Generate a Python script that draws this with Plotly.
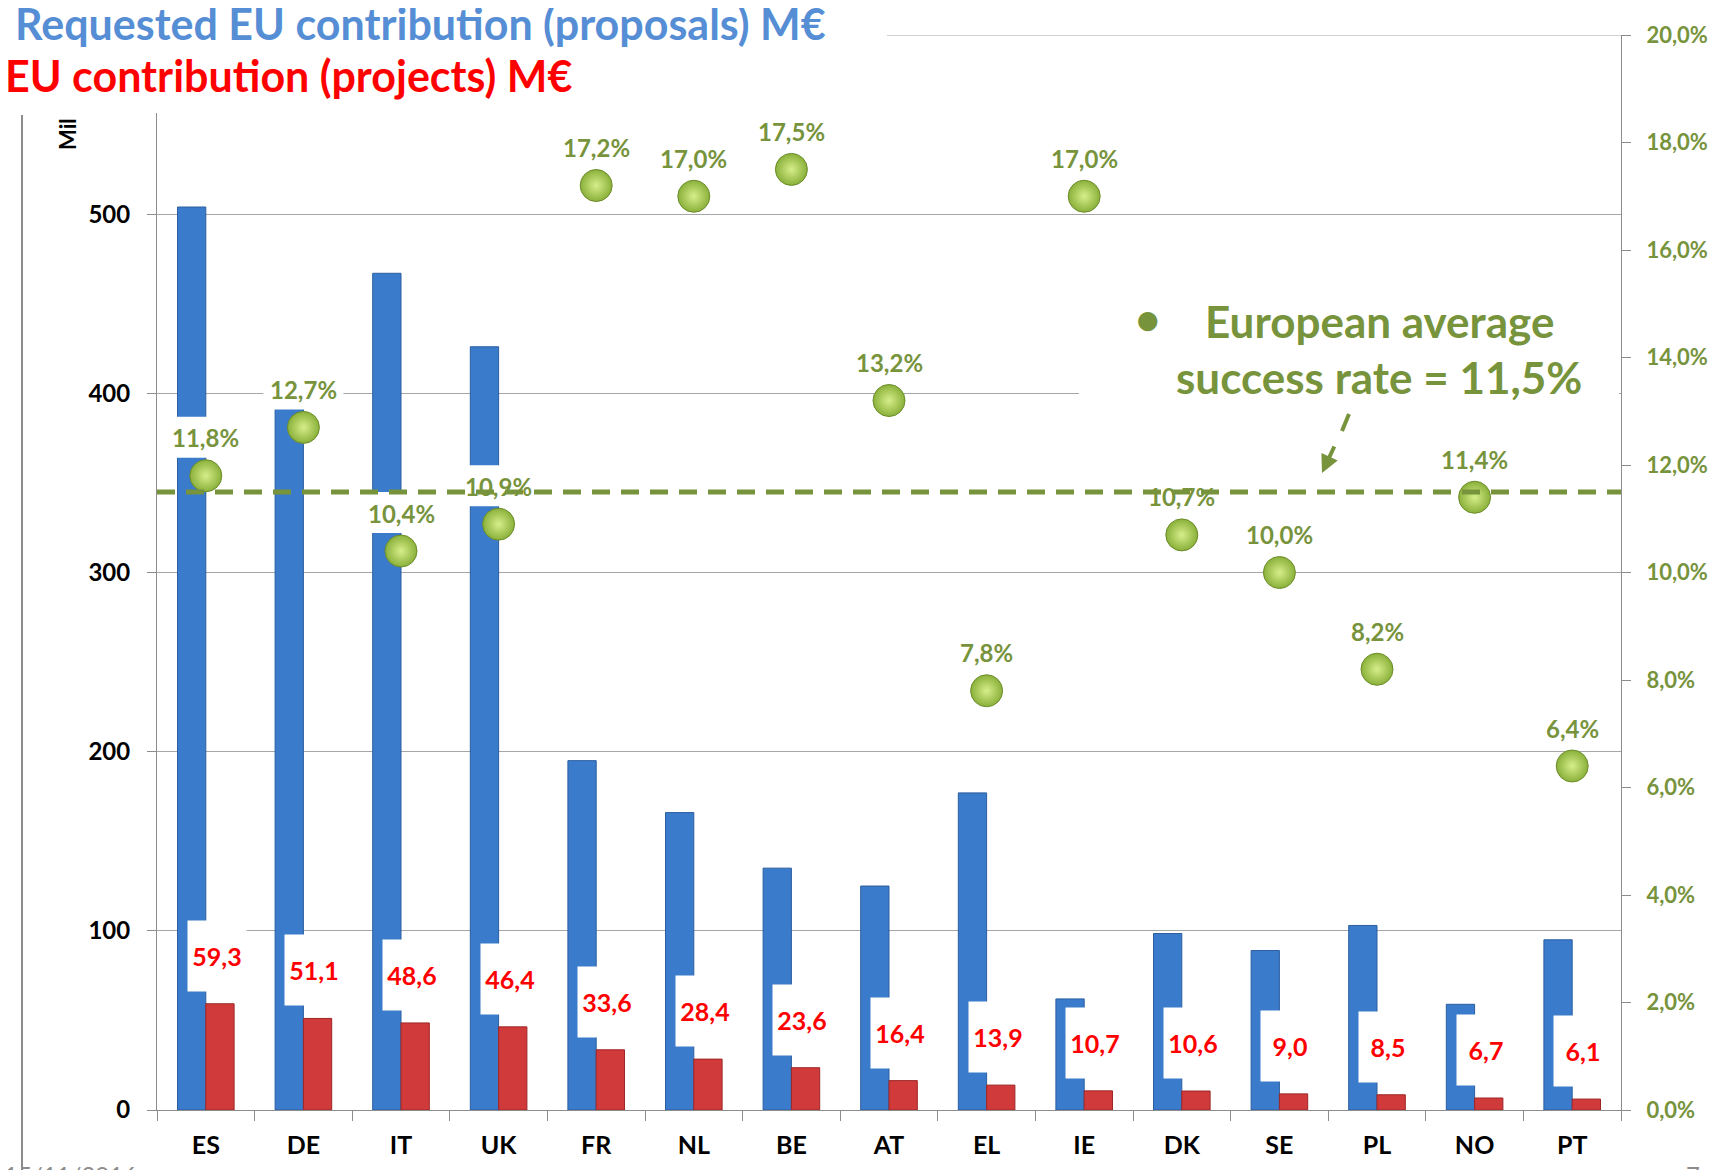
import plotly.graph_objects as go

# data
countries = ["ES", "DE", "IT", "UK", "FR", "NL", "BE", "AT", "EL", "IE", "DK", "SE", "PL", "NO", "PT"]
requested = [504, 402, 467, 426, 195, 166, 135, 125, 177, 62, 98.5, 89, 103, 59, 95]
granted = [59.3, 51.1, 48.6, 46.4, 33.6, 28.4, 23.6, 16.4, 13.9, 10.7, 10.6, 9.0, 8.5, 6.7, 6.1]
success = [0.118, 0.127, 0.104, 0.109, 0.172, 0.170, 0.175, 0.132, 0.078, 0.170, 0.107, 0.100, 0.082, 0.114, 0.064]
eu_average = 0.115
left_ticks = [0, 100, 200, 300, 400, 500]

GREEN = "#77933C"
FONT = "Lato"

# page has an 8px body margin, so the figure is drawn 8px in
OFF = 8
W, H = 1717 - OFF, 1170 - OFF
# plot area in page pixels
L, R, T, B = 157, 1621, 35, 1110


def px(x):
    return (x - L) / (R - L)


def py(y):
    return (B - y) / (B - T)


fig = go.Figure()

fig.add_trace(go.Bar(
    x=countries, y=requested, name="Requested EU contribution (proposals) M€",
    marker=dict(color="#3B7BCB", line=dict(color="#2B5E9F", width=1)),
))
fig.add_trace(go.Bar(
    x=countries, y=granted, name="EU contribution (projects) M€",
    marker=dict(color="#D03A3A", line=dict(color="#9E2626", width=1)),
))
fig.add_trace(go.Scatter(
    x=countries, y=success, yaxis="y2", mode="markers", name="Success rate",
    marker=dict(size=32, color="#8AB03A", line=dict(color="#6C8C2A", width=1),
                gradient=dict(type="radial", color="#D6EE8A")),
))

shapes = []
annotations = []

# top gridline (600), partly hidden by the title box
shapes.append(dict(type="line", layer="below", xref="paper", yref="y",
                   x0=0, x1=1, y0=600, y1=600, line=dict(color="#A6A6A6", width=1)))

# white boxes behind the success-rate labels
for i, r in enumerate(success):
    shapes.append(dict(
        type="rect", layer="above", xref="x", yref="y2",
        xsizemode="pixel", xanchor=i, x0=-40, x1=40,
        ysizemode="pixel", yanchor=r, y0=18, y1=59,
        fillcolor="white", line=dict(width=0),
    ))

# European average line
shapes.append(dict(
    type="line", layer="above", xref="paper", yref="y2",
    x0=0, x1=1, y0=eu_average, y1=eu_average,
    line=dict(color=GREEN, width=5, dash="18px,11px"),
))

# text box of the average note
shapes.append(dict(type="rect", layer="above", xref="paper", yref="paper",
                   x0=px(1079), x1=px(1619), y0=py(412), y1=py(285),
                   fillcolor="white", line=dict(width=0)))
# title box top left
shapes.append(dict(type="rect", layer="above", xref="paper", yref="paper",
                   x0=px(-20), x1=px(887), y0=py(113), y1=py(-20),
                   fillcolor="white", line=dict(width=0)))
# slide lines
shapes.append(dict(type="line", layer="above", xref="paper", yref="paper",
                   x0=px(887), x1=px(1730), y0=py(6), y1=py(6),
                   line=dict(color="#8C8C8C", width=2)))
shapes.append(dict(type="line", layer="above", xref="paper", yref="paper",
                   x0=px(22), x1=px(22), y0=py(115), y1=py(1180),
                   line=dict(color="#8C8C8C", width=2)))
# arrow shaft
shapes.append(dict(type="line", layer="above", xref="paper", yref="paper",
                   x0=px(1349), x1=px(1342), y0=py(414), y1=py(431),
                   line=dict(color=GREEN, width=4)))

for c, r in zip(countries, success):
    annotations.append(dict(
        x=c, y=r, xref="x", yref="y2", yshift=38, xanchor="center", yanchor="middle",
        text=f"{r * 100:.1f}%".replace(".", ","), showarrow=False,
        font=dict(family=FONT, size=24, color=GREEN, weight="bold"),
    ))

for c, v in zip(countries, granted):
    annotations.append(dict(
        x=c, y=v, xref="x", yref="y", yshift=12, xshift=11, xanchor="center", yanchor="bottom",
        text=f"{v:.1f}".replace(".", ","), showarrow=False,
        bgcolor="white", width=58, height=70, borderpad=0,
        font=dict(family=FONT, size=25, color="#FF0000", weight="bold"),
    ))

note_font = dict(family=FONT, size=44, color=GREEN, weight="bold")
annotations += [
    dict(x=px(828), y=py(23), xref="paper", yref="paper", xanchor="right", yanchor="middle",
         text="Requested EU contribution (proposals) M€", showarrow=False,
         font=dict(family=FONT, size=43, color="#558ED5", weight="bold")),
    dict(x=px(574), y=py(75), xref="paper", yref="paper", xanchor="right", yanchor="middle",
         text="EU contribution (projects) M€", showarrow=False,
         font=dict(family=FONT, size=43, color="#FF0000", weight="bold")),
    dict(x=px(68), y=py(134), xref="paper", yref="paper", xanchor="center", yanchor="middle",
         textangle=-90, text="Mil", showarrow=False,
         font=dict(family=FONT, size=22, color="black", weight="bold")),
    dict(x=px(1148), y=py(318), xref="paper", yref="paper", xanchor="center", yanchor="middle",
         text="•", showarrow=False, font=note_font),
    dict(x=px(1379), y=py(321), xref="paper", yref="paper", xanchor="center", yanchor="middle",
         text="European average", showarrow=False, font=note_font),
    dict(x=px(1379), y=py(377), xref="paper", yref="paper", xanchor="center", yanchor="middle",
         text="success rate = 11,5%", showarrow=False, font=note_font),
    dict(x=px(1322), y=py(473), xref="paper", yref="paper", text="",
         showarrow=True, ax=13, ay=-28, arrowhead=2, arrowsize=0.9, arrowwidth=4,
         arrowcolor=GREEN),
    dict(x=px(2), y=py(1158), xref="paper", yref="paper", xanchor="left", yanchor="top",
         text="15/11/2016", showarrow=False,
         font=dict(family=FONT, size=24, color="#8C8C8C")),
    dict(x=px(1684), y=py(1158), xref="paper", yref="paper", xanchor="left", yanchor="top",
         text="7", showarrow=False,
         font=dict(family=FONT, size=24, color="#8C8C8C")),
]

fig.update_layout(
    width=W, height=H,
    margin=dict(l=L - OFF, r=W - (R - OFF), t=T - OFF, b=H - (B - OFF), autoexpand=False),
    paper_bgcolor="white", plot_bgcolor="white",
    separators=",.",
    barmode="group", bargap=0.42, bargroupgap=0,
    showlegend=False,
    font=dict(family=FONT),
    xaxis=dict(
        range=[-0.5, len(countries) - 0.5],
        showline=True, linecolor="#8C8C8C", linewidth=1,
        ticks="outside", tickson="boundaries", ticklen=10, tickcolor="#8C8C8C",
        tickfont=dict(family=FONT, size=25, color="black", weight="bold"),
        ticklabelstandoff=13,
    ),
    yaxis=dict(
        range=[0, 600], tickvals=left_ticks, ticktext=[str(t) for t in left_ticks],
        showgrid=True, gridcolor="#A6A6A6", gridwidth=1,
        showline=True, linecolor="#8C8C8C", linewidth=1,
        ticks="outside", ticklen=9, tickcolor="#8C8C8C",
        tickfont=dict(family=FONT, size=24, color="black", weight="bold"),
        ticklabelstandoff=12, zeroline=False,
    ),
    yaxis2=dict(
        overlaying="y", side="right", range=[0, 0.2], dtick=0.02, tickformat=".1%",
        showgrid=False, zeroline=False, automargin=False,
        showline=True, linecolor="#8C8C8C", linewidth=1,
        ticks="outside", ticklen=9, tickcolor="#8C8C8C",
        tickfont=dict(family=FONT, size=22, color=GREEN, weight="bold"),
        ticklabelstandoff=11,
    ),
    shapes=shapes,
    annotations=annotations,
)

fig.write_html("out.html")
